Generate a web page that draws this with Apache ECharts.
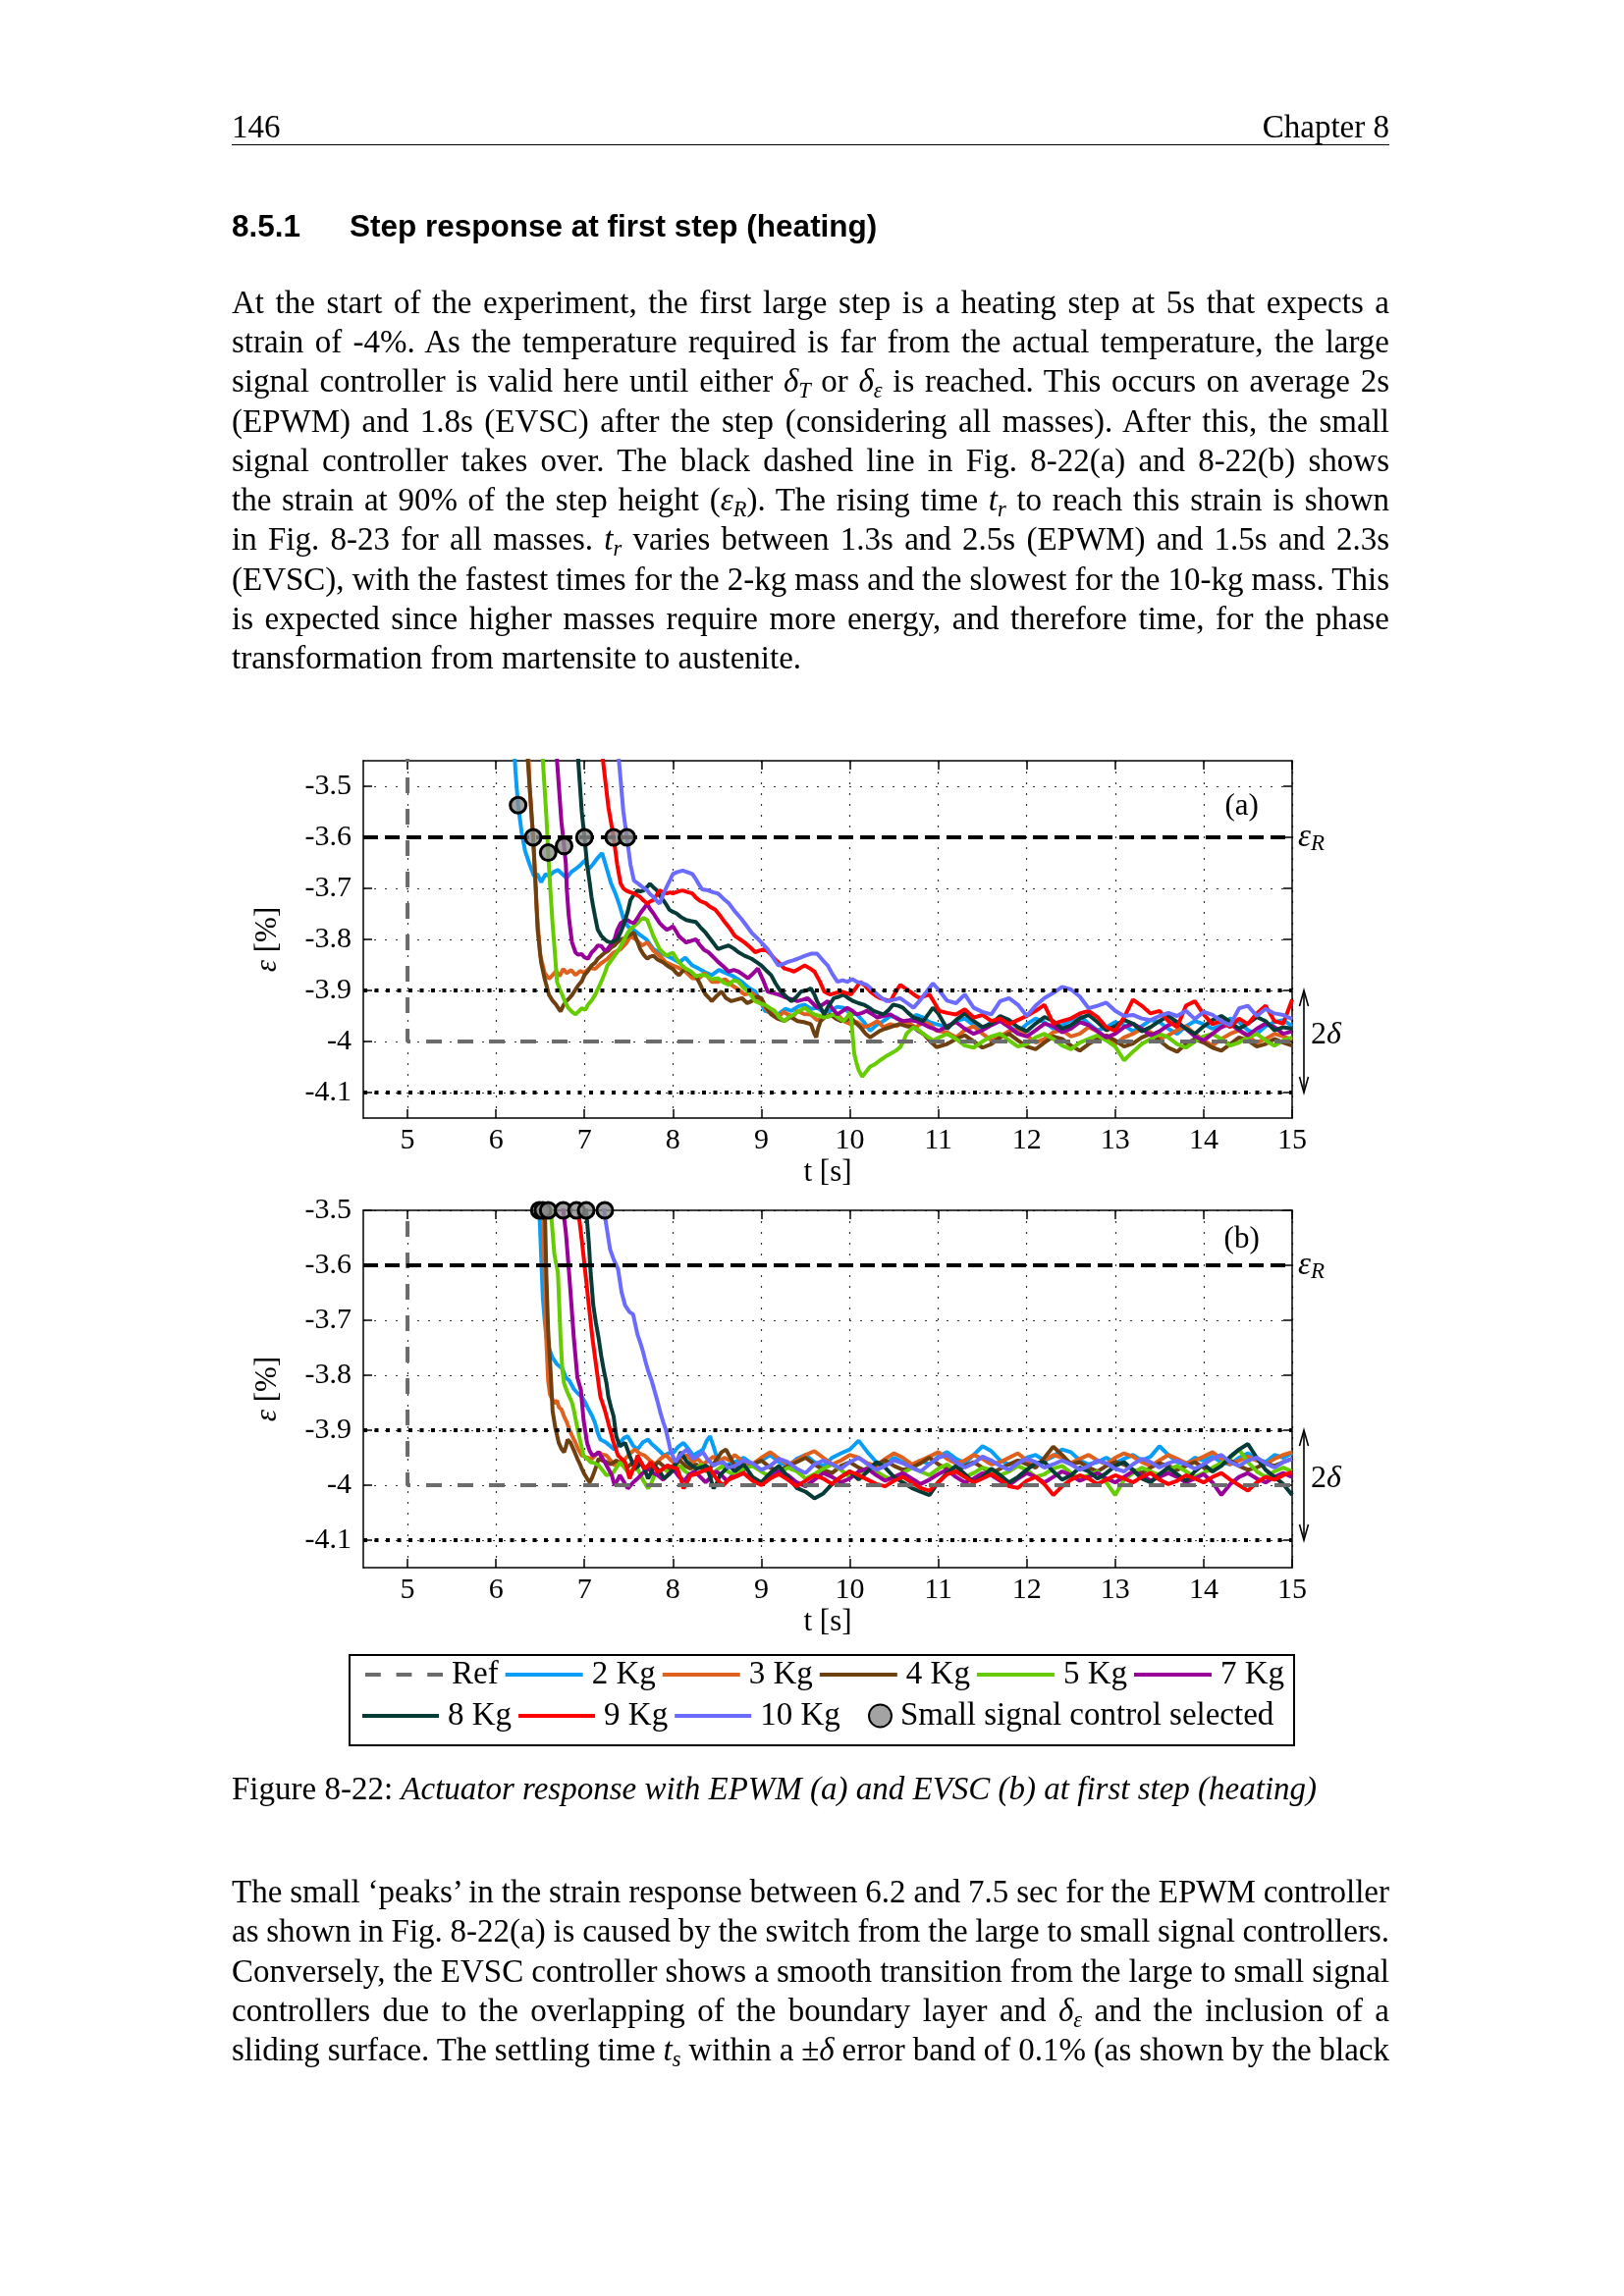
<!DOCTYPE html>
<html>
<head>
<meta charset="utf-8">
<script src="https://cdn.jsdelivr.net/npm/echarts@6.0.0/dist/echarts.min.js"></script>
<style>
html,body{margin:0;padding:0;background:#fff;}
#page{position:relative;width:1654px;height:2339px;overflow:hidden;background:#fff;}
#chart{position:absolute;left:0;top:0;width:1654px;height:2339px;}
.t{position:absolute;left:236px;width:1179px;height:40px;line-height:40px;font-family:'Liberation Serif','Times New Roman',serif;font-size:33px;white-space:nowrap;color:#000;z-index:2;}
.h{position:absolute;left:236px;height:40px;line-height:40px;font-family:'Liberation Sans',Arial,sans-serif;font-weight:bold;font-size:31.5px;white-space:nowrap;color:#000;z-index:2;}
.t i{font-style:italic;}
.t sub{font-size:0.68em;vertical-align:-0.28em;line-height:0;}
</style>
</head>
<body>
<div id="page">
<div id="chart"></div>

<div class="t" style="top:109px">146</div>
<div class="t" style="top:109px;text-align:right">Chapter 8</div>
<div style="position:absolute;left:236px;top:147px;width:1179px;height:0;border-top:1.6px solid #000;z-index:2"></div>
<div class="h" style="top:210px">8.5.1<span style="position:absolute;left:120px">Step response at first step (heating)</span></div>

<div class="t j" style="top:288px"><span class="in">At the start of the experiment, the first large step is a heating step at 5s that expects a</span></div>
<div class="t j" style="top:328px"><span class="in">strain of -4%. As the temperature required is far from the actual temperature, the large</span></div>
<div class="t j" style="top:368px"><span class="in">signal controller is valid here until either <i>&delta;</i><sub><i>T</i></sub> or <i>&delta;</i><sub><i>&epsilon;</i></sub> is reached. This occurs on average 2s</span></div>
<div class="t j" style="top:409px"><span class="in">(EPWM) and 1.8s (EVSC) after the step (considering all masses). After this, the small</span></div>
<div class="t j" style="top:449px"><span class="in">signal controller takes over. The black dashed line in Fig. 8-22(a) and 8-22(b) shows</span></div>
<div class="t j" style="top:489px"><span class="in">the strain at 90% of the step height (<i>&epsilon;</i><sub><i>R</i></sub>). The rising time <i>t</i><sub><i>r</i></sub> to reach this strain is shown</span></div>
<div class="t j" style="top:529px"><span class="in">in Fig. 8-23 for all masses. <i>t</i><sub><i>r</i></sub> varies between 1.3s and 2.5s (EPWM) and 1.5s and 2.3s</span></div>
<div class="t j" style="top:570px"><span class="in">(EVSC), with the fastest times for the 2-kg mass and the slowest for the 10-kg mass. This</span></div>
<div class="t j" style="top:610px"><span class="in">is expected since higher masses require more energy, and therefore time, for the phase</span></div>
<div class="t" style="top:650px"><span class="in">transformation from martensite to austenite.</span></div>

<div class="t" style="top:1802px">Figure 8-22: <i>Actuator response with EPWM (a) and EVSC (b) at first step (heating)</i></div>

<div class="t j" style="top:1907px"><span class="in">The small &lsquo;peaks&rsquo; in the strain response between 6.2 and 7.5 sec for the EPWM controller</span></div>
<div class="t j" style="top:1947px"><span class="in">as shown in Fig. 8-22(a) is caused by the switch from the large to small signal controllers.</span></div>
<div class="t j" style="top:1988px"><span class="in">Conversely, the EVSC controller shows a smooth transition from the large to small signal</span></div>
<div class="t j" style="top:2028px"><span class="in">controllers due to the overlapping of the boundary layer and <i>&delta;</i><sub><i>&epsilon;</i></sub> and the inclusion of a</span></div>
<div class="t j" style="top:2068px"><span class="in">sliding surface. The settling time <i>t</i><sub><i>s</i></sub> within a &plusmn;<i>&delta;</i> error band of 0.1% (as shown by the black</span></div>
</div>

<script>
// ---------------- DATA ----------------
const X_MIN = 4.5, X_MAX = 15;
const X_TICKS = [5, 6, 7, 8, 9, 10, 11, 12, 13, 14, 15];
const Y_TICKS = [-4.1, -4, -3.9, -3.8, -3.7, -3.6, -3.5];
const Y_MIN_A = -4.15, Y_MAX_A = -3.45;
const Y_MIN_B = -4.15, Y_MAX_B = -3.5;
const MASS_NAMES = ['2 Kg', '3 Kg', '4 Kg', '5 Kg', '7 Kg', '8 Kg', '9 Kg', '10 Kg'];
const MASS_COLORS = ['#089ef7', '#e0611e', '#6e4010', '#66cc00', '#990099', '#063b38', '#ff0000', '#6b6bff'];
const REF_T = [4.5, 5, 5, 15];
const REF_V = [0, 0, -4, -4];
const EPS_R = -3.6, BAND_HI = -3.9, BAND_LO = -4.1;
const PANEL_LABEL_A = [14.43, -3.54], PANEL_LABEL_B = [14.43, -3.553];
const DELTA_LABEL_V = -3.988;

// markers: small signal control selected
const MARK_A = [[6.25,-3.537],[6.42,-3.6],[6.59,-3.63],[6.77,-3.617],[7.0,-3.6],[7.33,-3.6],[7.48,-3.6]];
const MARK_B = [[6.49,-3.5],[6.53,-3.5],[6.59,-3.5],[6.76,-3.5],[6.91,-3.5],[7.02,-3.5],[7.23,-3.5]];

// settled-region time bases
const T_A_SET = [11.1,11.2,11.3,11.4,11.5,11.6,11.7,11.8,11.9,12.0,12.1,12.2,12.3,12.4,12.5,12.6,12.7,12.8,12.9,13.0,13.1,13.2,13.3,13.4,13.5,13.6,13.7,13.8,13.9,14.0,14.1,14.2,14.3,14.4,14.5,14.6,14.7,14.8,14.9,15.0];
const T_B_SET = [8.7,8.8,8.9,9.0,9.1,9.2,9.3,9.4,9.5,9.6,9.7,9.8,9.9,10.0,10.1,10.2,10.3,10.4,10.5,10.6,10.7,10.8,10.9,11.0,11.1,11.2,11.3,11.4,11.5,11.6,11.7,11.8,11.9,12.0,12.1,12.2,12.3,12.4,12.5,12.6,12.7,12.8,12.9,13.0,13.1,13.2,13.3,13.4,13.5,13.6,13.7,13.8,13.9,14.0,14.1,14.2,14.3,14.4,14.5,14.6,14.7,14.8,14.9,15.0];

// ----- (a) EPWM: transients [t, strain] -----
const A2_TR = [[6.17,-3.30],[6.22,-3.47],[6.25,-3.537],[6.29,-3.59],[6.33,-3.627],[6.38,-3.653],[6.43,-3.676],[6.47,-3.672],[6.51,-3.688],[6.56,-3.672],[6.60,-3.676],[6.65,-3.668],[6.70,-3.664],[6.75,-3.672],[6.80,-3.680],[6.85,-3.668],[6.90,-3.662],[6.95,-3.655],[7.00,-3.646],[7.05,-3.662],[7.10,-3.652],[7.15,-3.640],[7.20,-3.631],[7.25,-3.660],[7.30,-3.690],[7.35,-3.710],[7.40,-3.735],[7.45,-3.765],[7.50,-3.776],[7.56,-3.782],[7.62,-3.790],[7.70,-3.800],[7.78,-3.819],[7.85,-3.826],[7.93,-3.832],[8.00,-3.838],[8.07,-3.845],[8.14,-3.836],[8.22,-3.851],[8.29,-3.857],[8.36,-3.864],[8.44,-3.870],[8.52,-3.860],[8.60,-3.866],[8.68,-3.872],[8.78,-3.883],[8.86,-3.895],[8.93,-3.902],[9.00,-3.925],[9.04,-3.940],[9.12,-3.944],[9.19,-3.947],[9.27,-3.936],[9.34,-3.940],[9.42,-3.931],[9.49,-3.928],[9.56,-3.936],[9.63,-3.934],[9.70,-3.942],[9.78,-3.940],[9.86,-3.932],[9.93,-3.934],[10.00,-3.944],[10.08,-3.947],[10.16,-3.962],[10.23,-3.979],[10.30,-3.968],[10.38,-3.960],[10.46,-3.950],[10.53,-3.953],[10.60,-3.962],[10.68,-3.960],[10.75,-3.948],[10.83,-3.953],[10.90,-3.962],[10.98,-3.966]];
const A3_TR = [[6.34,-3.30],[6.38,-3.50],[6.42,-3.60],[6.46,-3.74],[6.50,-3.83],[6.55,-3.866],[6.60,-3.877],[6.64,-3.870],[6.68,-3.862],[6.72,-3.872],[6.76,-3.858],[6.80,-3.866],[6.85,-3.860],[6.90,-3.870],[6.95,-3.862],[7.00,-3.865],[7.06,-3.856],[7.12,-3.858],[7.18,-3.848],[7.26,-3.838],[7.33,-3.826],[7.41,-3.819],[7.47,-3.808],[7.52,-3.794],[7.58,-3.800],[7.65,-3.812],[7.71,-3.806],[7.78,-3.822],[7.85,-3.832],[7.92,-3.845],[8.00,-3.851],[8.07,-3.856],[8.14,-3.863],[8.22,-3.876],[8.29,-3.877],[8.36,-3.866],[8.44,-3.883],[8.51,-3.883],[8.59,-3.878],[8.66,-3.889],[8.74,-3.898],[8.81,-3.908],[8.89,-3.905],[8.96,-3.915],[9.02,-3.928],[9.07,-3.940],[9.13,-3.946],[9.19,-3.953],[9.25,-3.942],[9.30,-3.947],[9.36,-3.951],[9.41,-3.940],[9.48,-3.946],[9.56,-3.947],[9.63,-3.958],[9.71,-3.953],[9.78,-3.950],[9.86,-3.947],[9.93,-3.960],[10.01,-3.966],[10.08,-3.962],[10.16,-3.972],[10.23,-3.968],[10.31,-3.960],[10.38,-3.972],[10.46,-3.966],[10.53,-3.970],[10.60,-3.960],[10.68,-3.966],[10.75,-3.972],[10.83,-3.962],[10.90,-3.966],[10.98,-3.979]];
const A4_TR = [[6.33,-3.30],[6.36,-3.45],[6.42,-3.60],[6.45,-3.70],[6.47,-3.78],[6.51,-3.845],[6.55,-3.877],[6.60,-3.909],[6.64,-3.920],[6.68,-3.928],[6.73,-3.941],[6.76,-3.930],[6.79,-3.922],[6.83,-3.915],[6.86,-3.909],[6.90,-3.898],[6.93,-3.890],[6.97,-3.882],[7.00,-3.870],[7.04,-3.862],[7.08,-3.851],[7.12,-3.846],[7.15,-3.838],[7.19,-3.832],[7.23,-3.826],[7.27,-3.822],[7.30,-3.816],[7.34,-3.812],[7.37,-3.806],[7.41,-3.800],[7.45,-3.798],[7.49,-3.794],[7.53,-3.789],[7.56,-3.787],[7.60,-3.805],[7.63,-3.819],[7.67,-3.830],[7.71,-3.838],[7.74,-3.834],[7.78,-3.832],[7.83,-3.840],[7.89,-3.845],[7.94,-3.852],[8.00,-3.858],[8.04,-3.866],[8.07,-3.870],[8.11,-3.862],[8.15,-3.858],[8.20,-3.866],[8.26,-3.872],[8.30,-3.885],[8.33,-3.896],[8.37,-3.908],[8.41,-3.915],[8.44,-3.921],[8.50,-3.910],[8.55,-3.902],[8.60,-3.915],[8.66,-3.921],[8.72,-3.918],[8.78,-3.915],[8.84,-3.925],[8.89,-3.921],[8.95,-3.912],[9.00,-3.915],[9.05,-3.932],[9.11,-3.947],[9.18,-3.955],[9.26,-3.960],[9.33,-3.952],[9.41,-3.960],[9.48,-3.962],[9.56,-3.966],[9.60,-3.985],[9.62,-3.992],[9.64,-3.975],[9.67,-3.960],[9.72,-3.952],[9.78,-3.947],[9.84,-3.955],[9.90,-3.960],[9.96,-3.958],[10.01,-3.953],[10.07,-3.964],[10.12,-3.972],[10.18,-3.985],[10.23,-3.992],[10.29,-3.985],[10.34,-3.979],[10.40,-3.975],[10.46,-3.972],[10.52,-3.968],[10.57,-3.966],[10.64,-3.970],[10.72,-3.972],[10.78,-3.980],[10.83,-3.985],[10.90,-3.998],[10.98,-4.011]];
const A5_TR = [[6.50,-3.30],[6.53,-3.45],[6.57,-3.56],[6.59,-3.63],[6.62,-3.717],[6.64,-3.77],[6.66,-3.813],[6.69,-3.883],[6.72,-3.898],[6.75,-3.909],[6.78,-3.922],[6.82,-3.935],[6.86,-3.942],[6.90,-3.947],[6.94,-3.940],[6.97,-3.935],[7.01,-3.938],[7.04,-3.928],[7.08,-3.920],[7.12,-3.909],[7.15,-3.898],[7.19,-3.883],[7.23,-3.866],[7.26,-3.851],[7.30,-3.842],[7.34,-3.832],[7.37,-3.825],[7.41,-3.813],[7.45,-3.800],[7.49,-3.787],[7.52,-3.780],[7.56,-3.774],[7.60,-3.768],[7.63,-3.762],[7.67,-3.758],[7.71,-3.762],[7.75,-3.780],[7.78,-3.794],[7.82,-3.808],[7.85,-3.819],[7.89,-3.826],[7.93,-3.832],[7.97,-3.828],[8.00,-3.826],[8.04,-3.838],[8.07,-3.845],[8.11,-3.852],[8.15,-3.858],[8.20,-3.862],[8.26,-3.872],[8.31,-3.870],[8.37,-3.870],[8.44,-3.878],[8.51,-3.876],[8.57,-3.884],[8.63,-3.889],[8.69,-3.880],[8.74,-3.883],[8.80,-3.895],[8.85,-3.902],[8.93,-3.921],[8.98,-3.925],[9.04,-3.928],[9.10,-3.935],[9.15,-3.940],[9.20,-3.952],[9.26,-3.960],[9.31,-3.952],[9.37,-3.947],[9.43,-3.940],[9.49,-3.934],[9.55,-3.942],[9.60,-3.947],[9.66,-3.950],[9.71,-3.953],[9.77,-3.950],[9.82,-3.947],[9.88,-3.955],[9.93,-3.960],[9.98,-3.950],[10.01,-3.940],[10.03,-3.985],[10.05,-4.024],[10.08,-4.045],[10.10,-4.056],[10.14,-4.069],[10.18,-4.060],[10.23,-4.049],[10.28,-4.045],[10.34,-4.037],[10.40,-4.030],[10.46,-4.024],[10.52,-4.018],[10.57,-4.011],[10.61,-3.998],[10.64,-3.985],[10.68,-3.978],[10.72,-3.972],[10.78,-3.978],[10.83,-3.985],[10.89,-3.992],[10.94,-3.998],[11.01,-3.992]];
const A7_TR = [[6.66,-3.30],[6.69,-3.45],[6.74,-3.57],[6.77,-3.617],[6.79,-3.653],[6.80,-3.70],[6.82,-3.749],[6.84,-3.78],[6.86,-3.806],[6.90,-3.826],[6.93,-3.830],[6.97,-3.829],[7.00,-3.835],[7.04,-3.838],[7.08,-3.826],[7.12,-3.819],[7.15,-3.812],[7.19,-3.813],[7.23,-3.822],[7.26,-3.819],[7.30,-3.810],[7.34,-3.800],[7.37,-3.782],[7.41,-3.768],[7.45,-3.764],[7.49,-3.762],[7.52,-3.766],[7.56,-3.768],[7.60,-3.758],[7.63,-3.749],[7.67,-3.740],[7.71,-3.730],[7.74,-3.740],[7.78,-3.749],[7.82,-3.760],[7.85,-3.768],[7.89,-3.775],[7.93,-3.781],[7.97,-3.778],[8.00,-3.774],[8.04,-3.785],[8.07,-3.794],[8.11,-3.800],[8.15,-3.806],[8.20,-3.803],[8.26,-3.800],[8.30,-3.810],[8.35,-3.820],[8.40,-3.825],[8.46,-3.835],[8.51,-3.844],[8.57,-3.853],[8.63,-3.863],[8.69,-3.860],[8.74,-3.863],[8.80,-3.870],[8.85,-3.876],[8.91,-3.866],[8.96,-3.857],[9.02,-3.880],[9.07,-3.902],[9.13,-3.905],[9.19,-3.908],[9.25,-3.912],[9.30,-3.915],[9.36,-3.918],[9.41,-3.921],[9.47,-3.918],[9.52,-3.915],[9.58,-3.925],[9.63,-3.934],[9.69,-3.928],[9.75,-3.921],[9.80,-3.935],[9.86,-3.947],[9.92,-3.940],[9.97,-3.934],[10.03,-3.940],[10.08,-3.947],[10.14,-3.944],[10.19,-3.940],[10.25,-3.946],[10.31,-3.953],[10.38,-3.950],[10.46,-3.947],[10.53,-3.955],[10.60,-3.960],[10.68,-3.958],[10.75,-3.960],[10.83,-3.966],[10.90,-3.972],[11.01,-3.979]];
const A8_TR = [[6.90,-3.30],[6.93,-3.45],[6.97,-3.55],[7.00,-3.60],[7.03,-3.653],[7.06,-3.69],[7.08,-3.717],[7.10,-3.737],[7.12,-3.755],[7.15,-3.781],[7.19,-3.793],[7.23,-3.800],[7.26,-3.804],[7.30,-3.806],[7.34,-3.803],[7.37,-3.800],[7.41,-3.786],[7.45,-3.768],[7.49,-3.745],[7.52,-3.723],[7.56,-3.712],[7.60,-3.704],[7.63,-3.706],[7.67,-3.704],[7.71,-3.697],[7.74,-3.691],[7.78,-3.698],[7.82,-3.704],[7.85,-3.714],[7.89,-3.723],[7.93,-3.733],[7.96,-3.742],[8.00,-3.746],[8.04,-3.749],[8.09,-3.756],[8.15,-3.762],[8.20,-3.764],[8.26,-3.766],[8.31,-3.776],[8.37,-3.787],[8.44,-3.803],[8.51,-3.819],[8.57,-3.815],[8.63,-3.812],[8.69,-3.818],[8.74,-3.825],[8.81,-3.832],[8.89,-3.838],[8.95,-3.845],[9.00,-3.851],[9.05,-3.860],[9.11,-3.870],[9.16,-3.886],[9.22,-3.902],[9.28,-3.912],[9.34,-3.921],[9.40,-3.912],[9.45,-3.902],[9.51,-3.900],[9.56,-3.896],[9.60,-3.908],[9.63,-3.921],[9.67,-3.934],[9.71,-3.947],[9.76,-3.930],[9.82,-3.915],[9.88,-3.912],[9.93,-3.908],[9.98,-3.915],[10.04,-3.921],[10.10,-3.925],[10.16,-3.928],[10.22,-3.934],[10.27,-3.940],[10.33,-3.944],[10.38,-3.947],[10.44,-3.938],[10.49,-3.928],[10.55,-3.930],[10.60,-3.934],[10.66,-3.944],[10.72,-3.953],[10.78,-3.956],[10.83,-3.960],[10.89,-3.946],[10.94,-3.934],[11.00,-3.945]];
const A9_TR = [[7.17,-3.30],[7.21,-3.45],[7.27,-3.54],[7.33,-3.60],[7.37,-3.653],[7.41,-3.691],[7.44,-3.700],[7.47,-3.704],[7.52,-3.708],[7.56,-3.710],[7.60,-3.714],[7.63,-3.717],[7.67,-3.724],[7.71,-3.730],[7.74,-3.726],[7.78,-3.723],[7.82,-3.712],[7.85,-3.704],[7.89,-3.708],[7.93,-3.710],[7.97,-3.708],[8.00,-3.710],[8.06,-3.706],[8.11,-3.704],[8.16,-3.707],[8.22,-3.710],[8.26,-3.718],[8.31,-3.725],[8.37,-3.729],[8.42,-3.736],[8.48,-3.742],[8.54,-3.755],[8.59,-3.767],[8.65,-3.780],[8.70,-3.793],[8.76,-3.800],[8.81,-3.806],[8.87,-3.815],[8.93,-3.825],[8.98,-3.822],[9.04,-3.819],[9.10,-3.828],[9.15,-3.838],[9.21,-3.848],[9.26,-3.857],[9.32,-3.860],[9.37,-3.863],[9.43,-3.857],[9.49,-3.851],[9.55,-3.857],[9.60,-3.863],[9.66,-3.882],[9.71,-3.902],[9.75,-3.906],[9.78,-3.908],[9.84,-3.905],[9.90,-3.902],[9.96,-3.905],[10.01,-3.908],[10.07,-3.895],[10.12,-3.883],[10.18,-3.892],[10.23,-3.902],[10.29,-3.910],[10.34,-3.915],[10.40,-3.918],[10.46,-3.921],[10.51,-3.905],[10.57,-3.889],[10.62,-3.895],[10.68,-3.902],[10.74,-3.910],[10.79,-3.915],[10.85,-3.911],[10.90,-3.908],[10.96,-3.925],[11.01,-3.940]];
const A10_TR = [[7.35,-3.30],[7.39,-3.45],[7.44,-3.55],[7.48,-3.60],[7.52,-3.653],[7.56,-3.685],[7.61,-3.691],[7.66,-3.698],[7.71,-3.704],[7.74,-3.711],[7.78,-3.717],[7.82,-3.725],[7.85,-3.730],[7.89,-3.712],[7.93,-3.697],[7.97,-3.683],[8.00,-3.672],[8.05,-3.668],[8.11,-3.665],[8.16,-3.668],[8.22,-3.672],[8.26,-3.682],[8.29,-3.691],[8.33,-3.702],[8.40,-3.704],[8.46,-3.708],[8.51,-3.710],[8.57,-3.720],[8.63,-3.729],[8.70,-3.745],[8.78,-3.761],[8.84,-3.775],[8.89,-3.787],[8.95,-3.797],[9.00,-3.806],[9.07,-3.819],[9.13,-3.835],[9.19,-3.851],[9.25,-3.848],[9.30,-3.844],[9.36,-3.841],[9.41,-3.838],[9.48,-3.833],[9.56,-3.828],[9.63,-3.828],[9.69,-3.840],[9.75,-3.851],[9.80,-3.867],[9.86,-3.883],[9.92,-3.880],[9.97,-3.883],[10.03,-3.878],[10.08,-3.883],[10.14,-3.886],[10.19,-3.889],[10.25,-3.898],[10.31,-3.908],[10.36,-3.915],[10.42,-3.921],[10.50,-3.918],[10.57,-3.915],[10.65,-3.925],[10.72,-3.934],[10.80,-3.918],[10.87,-3.902],[10.94,-3.886],[11.01,-3.900]];

// ----- (a) settled values at T_A_SET -----
const A2_SET = [-3.972,-3.960,-3.955,-3.968,-3.975,-3.962,-3.958,-3.970,-3.982,-3.966,-3.955,-3.962,-3.975,-3.968,-3.958,-3.950,-3.965,-3.978,-3.972,-3.962,-3.968,-3.980,-3.970,-3.958,-3.962,-3.975,-3.985,-3.970,-3.960,-3.966,-3.975,-3.968,-3.955,-3.962,-3.978,-3.985,-3.970,-3.962,-3.958,-3.970];
const A3_SET = [-3.982,-3.992,-3.978,-3.970,-3.985,-3.998,-3.990,-3.980,-3.975,-3.988,-4.002,-3.995,-3.982,-3.978,-3.990,-3.985,-3.972,-3.980,-3.995,-4.005,-3.992,-3.985,-3.975,-3.982,-3.995,-3.988,-3.978,-3.970,-3.985,-3.998,-4.008,-3.995,-3.985,-3.978,-3.990,-4.002,-3.995,-3.985,-3.990,-3.996];
const A4_SET = [-4.005,-3.995,-3.988,-4.000,-4.012,-4.005,-3.992,-3.985,-3.998,-4.010,-4.015,-4.002,-3.990,-3.995,-4.008,-4.018,-4.005,-3.995,-3.988,-3.998,-4.010,-4.004,-3.992,-3.985,-3.998,-4.012,-4.020,-4.005,-3.995,-4.002,-4.012,-4.018,-4.005,-3.992,-3.998,-4.010,-4.005,-3.995,-4.002,-4.008];
const A5_SET = [-3.985,-3.995,-4.008,-4.012,-4.000,-3.990,-3.985,-3.998,-4.010,-4.005,-3.992,-3.985,-3.995,-4.008,-4.015,-4.002,-3.995,-3.988,-3.998,-4.010,-4.037,-4.020,-4.005,-3.995,-3.985,-3.992,-4.005,-4.012,-4.000,-3.990,-3.985,-3.995,-4.008,-4.002,-3.992,-3.985,-3.998,-4.008,-3.998,-3.992];
const A7_SET = [-3.970,-3.962,-3.975,-3.985,-3.978,-3.968,-3.960,-3.972,-3.985,-3.990,-3.978,-3.965,-3.970,-3.982,-3.975,-3.962,-3.968,-3.980,-3.992,-3.985,-3.972,-3.965,-3.975,-3.988,-3.980,-3.968,-3.962,-3.975,-3.990,-3.998,-3.985,-3.972,-3.965,-3.978,-3.988,-3.975,-3.965,-3.972,-3.985,-3.980];
const A8_SET = [-3.975,-3.958,-3.945,-3.960,-3.972,-3.965,-3.950,-3.958,-3.972,-3.980,-3.965,-3.952,-3.960,-3.975,-3.968,-3.955,-3.948,-3.962,-3.978,-3.970,-3.958,-3.965,-3.980,-3.972,-3.960,-3.950,-3.962,-3.975,-3.985,-3.970,-3.958,-3.950,-3.962,-3.975,-3.965,-3.952,-3.960,-3.978,-3.972,-3.975];
const A9_SET = [-3.944,-3.947,-3.937,-3.953,-3.948,-3.960,-3.955,-3.966,-3.958,-3.950,-3.940,-3.928,-3.965,-3.960,-3.955,-3.945,-3.940,-3.952,-3.972,-3.979,-3.953,-3.918,-3.930,-3.945,-3.940,-3.960,-3.972,-3.930,-3.921,-3.947,-3.966,-3.960,-3.972,-3.955,-3.966,-3.945,-3.930,-3.960,-3.965,-3.918];
const A10_SET = [-3.920,-3.925,-3.908,-3.934,-3.942,-3.947,-3.921,-3.915,-3.928,-3.950,-3.930,-3.915,-3.905,-3.893,-3.898,-3.912,-3.935,-3.930,-3.924,-3.940,-3.950,-3.948,-3.955,-3.958,-3.950,-3.944,-3.950,-3.940,-3.956,-3.942,-3.948,-3.960,-3.968,-3.935,-3.930,-3.950,-3.936,-3.945,-3.948,-3.956];

// ----- (b) EVSC: transients [t, strain] -----
const B2_TR = [[6.45,-3.30],[6.49,-3.50],[6.51,-3.58],[6.53,-3.66],[6.55,-3.70],[6.57,-3.732],[6.60,-3.752],[6.64,-3.768],[6.69,-3.780],[6.75,-3.788],[6.79,-3.804],[6.83,-3.810],[6.88,-3.825],[6.93,-3.834],[6.97,-3.839],[7.01,-3.850],[7.05,-3.863],[7.09,-3.875],[7.12,-3.887],[7.15,-3.905],[7.18,-3.917],[7.22,-3.920],[7.25,-3.923],[7.30,-3.930],[7.34,-3.935],[7.39,-3.925],[7.44,-3.915],[7.49,-3.911],[7.55,-3.928],[7.60,-3.935],[7.66,-3.922],[7.72,-3.917],[7.76,-3.925],[7.79,-3.929],[7.85,-3.938],[7.90,-3.946],[7.95,-3.942],[8.01,-3.940],[8.06,-3.930],[8.12,-3.923],[8.18,-3.935],[8.23,-3.946],[8.29,-3.940],[8.34,-3.935],[8.38,-3.920],[8.42,-3.911],[8.46,-3.930],[8.49,-3.946],[8.55,-3.955],[8.60,-3.964],[8.66,-3.960]];
const B3_TR = [[6.50,-3.30],[6.53,-3.50],[6.55,-3.62],[6.57,-3.74],[6.59,-3.81],[6.61,-3.835],[6.64,-3.845],[6.66,-3.851],[6.69,-3.846],[6.71,-3.858],[6.74,-3.862],[6.77,-3.875],[6.80,-3.885],[6.83,-3.899],[6.86,-3.910],[6.90,-3.923],[6.93,-3.935],[6.97,-3.946],[7.03,-3.950],[7.09,-3.952],[7.12,-3.946],[7.16,-3.940],[7.20,-3.944],[7.25,-3.946],[7.30,-3.956],[7.34,-3.964],[7.40,-3.958],[7.46,-3.952],[7.52,-3.942],[7.57,-3.935],[7.62,-3.942],[7.68,-3.946],[7.74,-3.955],[7.80,-3.962],[7.86,-3.952],[7.92,-3.945],[7.98,-3.955],[8.04,-3.962],[8.10,-3.950],[8.16,-3.945],[8.22,-3.958],[8.28,-3.952],[8.34,-3.962],[8.40,-3.955],[8.46,-3.948],[8.52,-3.958],[8.58,-3.950],[8.64,-3.955]];
const B4_TR = [[6.52,-3.30],[6.55,-3.48],[6.57,-3.62],[6.59,-3.72],[6.62,-3.800],[6.64,-3.865],[6.67,-3.895],[6.71,-3.923],[6.74,-3.934],[6.77,-3.940],[6.79,-3.930],[6.81,-3.917],[6.84,-3.922],[6.86,-3.929],[6.89,-3.940],[6.92,-3.952],[6.95,-3.962],[6.97,-3.970],[7.00,-3.980],[7.03,-3.988],[7.06,-3.995],[7.09,-3.985],[7.12,-3.972],[7.16,-3.952],[7.20,-3.955],[7.25,-3.958],[7.30,-3.962],[7.36,-3.955],[7.42,-3.962],[7.48,-3.968],[7.54,-3.960],[7.60,-3.955],[7.66,-3.965],[7.72,-3.972],[7.78,-3.965],[7.84,-3.958],[7.90,-3.966],[7.96,-3.972],[8.02,-3.962],[8.08,-3.955],[8.14,-3.965],[8.20,-3.970],[8.26,-3.962],[8.32,-3.968],[8.38,-3.975],[8.44,-3.965],[8.50,-3.952],[8.55,-3.940],[8.60,-3.935],[8.65,-3.950]];
const B5_TR = [[6.58,-3.30],[6.62,-3.50],[6.66,-3.58],[6.70,-3.613],[6.73,-3.732],[6.75,-3.790],[6.77,-3.815],[6.80,-3.828],[6.83,-3.839],[6.86,-3.850],[6.88,-3.863],[6.91,-3.888],[6.94,-3.911],[6.97,-3.932],[6.99,-3.946],[7.03,-3.952],[7.07,-3.958],[7.12,-3.960],[7.16,-3.964],[7.20,-3.972],[7.25,-3.982],[7.29,-3.980],[7.33,-3.976],[7.37,-3.966],[7.40,-3.958],[7.45,-3.968],[7.49,-3.976],[7.55,-3.972],[7.60,-3.970],[7.66,-3.990],[7.72,-4.006],[7.76,-3.995],[7.79,-3.982],[7.85,-3.975],[7.90,-3.970],[7.96,-3.978],[8.02,-3.972],[8.08,-3.965],[8.14,-3.975],[8.20,-3.982],[8.26,-3.970],[8.32,-3.962],[8.38,-3.972],[8.44,-3.980],[8.50,-3.972],[8.56,-3.965],[8.62,-3.975]];
const B7_TR = [[6.72,-3.30],[6.76,-3.50],[6.79,-3.54],[6.81,-3.580],[6.84,-3.643],[6.88,-3.732],[6.92,-3.804],[6.96,-3.827],[6.99,-3.881],[7.03,-3.923],[7.06,-3.938],[7.09,-3.946],[7.13,-3.944],[7.16,-3.940],[7.20,-3.950],[7.23,-3.958],[7.27,-3.970],[7.31,-3.982],[7.34,-4.000],[7.37,-3.992],[7.40,-3.982],[7.45,-3.995],[7.49,-4.006],[7.55,-3.995],[7.60,-3.988],[7.66,-3.978],[7.72,-3.970],[7.78,-3.978],[7.83,-3.982],[7.89,-3.990],[7.95,-3.980],[8.01,-3.972],[8.07,-3.985],[8.13,-3.992],[8.19,-3.980],[8.25,-3.975],[8.31,-3.985],[8.37,-3.995],[8.43,-3.985],[8.49,-3.975],[8.55,-3.982],[8.61,-3.992],[8.66,-3.985]];
const B8_TR = [[6.99,-3.30],[7.02,-3.50],[7.05,-3.56],[7.07,-3.613],[7.10,-3.673],[7.13,-3.705],[7.16,-3.732],[7.19,-3.765],[7.22,-3.792],[7.25,-3.815],[7.27,-3.839],[7.30,-3.858],[7.33,-3.875],[7.36,-3.911],[7.40,-3.929],[7.43,-3.926],[7.46,-3.923],[7.51,-3.946],[7.54,-3.958],[7.57,-3.970],[7.61,-3.965],[7.64,-3.958],[7.68,-3.972],[7.72,-3.988],[7.76,-3.975],[7.79,-3.964],[7.85,-3.975],[7.90,-3.988],[7.96,-3.980],[8.01,-3.970],[8.05,-3.955],[8.09,-3.940],[8.12,-3.948],[8.16,-3.958],[8.22,-3.965],[8.27,-3.970],[8.33,-3.967],[8.38,-3.964],[8.42,-3.985],[8.46,-4.006],[8.50,-3.995],[8.53,-3.982],[8.59,-3.972],[8.64,-3.964]];
const B9_TR = [[6.90,-3.30],[6.93,-3.50],[6.97,-3.554],[7.01,-3.613],[7.05,-3.673],[7.09,-3.732],[7.14,-3.792],[7.18,-3.839],[7.23,-3.863],[7.27,-3.887],[7.30,-3.905],[7.33,-3.923],[7.38,-3.946],[7.42,-3.952],[7.46,-3.958],[7.49,-3.975],[7.51,-3.988],[7.54,-3.975],[7.57,-3.964],[7.60,-3.946],[7.64,-3.958],[7.68,-3.970],[7.72,-3.964],[7.75,-3.958],[7.79,-3.968],[7.83,-3.976],[7.89,-3.970],[7.94,-3.964],[8.00,-3.968],[8.05,-3.970],[8.09,-3.988],[8.12,-4.006],[8.16,-3.995],[8.20,-3.982],[8.26,-3.980],[8.31,-3.976],[8.37,-3.972],[8.42,-3.970],[8.46,-3.980],[8.49,-3.988],[8.53,-3.995],[8.57,-4.000],[8.63,-3.990]];
const B10_TR = [[7.18,-3.30],[7.22,-3.50],[7.25,-3.53],[7.29,-3.571],[7.33,-3.589],[7.38,-3.607],[7.42,-3.649],[7.46,-3.673],[7.51,-3.685],[7.55,-3.689],[7.57,-3.690],[7.60,-3.726],[7.63,-3.740],[7.66,-3.756],[7.69,-3.775],[7.72,-3.792],[7.76,-3.810],[7.79,-3.827],[7.83,-3.850],[7.86,-3.869],[7.89,-3.885],[7.92,-3.899],[7.95,-3.920],[7.97,-3.935],[8.00,-3.948],[8.03,-3.958],[8.08,-3.946],[8.12,-3.940],[8.16,-3.935],[8.20,-3.945],[8.23,-3.952],[8.29,-3.946],[8.34,-3.940],[8.40,-3.955],[8.46,-3.964],[8.51,-3.960],[8.57,-3.958],[8.62,-3.968]];

// ----- (b) settled values at T_B_SET -----
const B2_SET = [-3.958,-3.950,-3.962,-3.955,-3.945,-3.958,-3.966,-3.952,-3.945,-3.958,-3.965,-3.950,-3.942,-3.935,-3.919,-3.940,-3.958,-3.962,-3.950,-3.958,-3.965,-3.955,-3.962,-3.948,-3.940,-3.952,-3.960,-3.945,-3.929,-3.938,-3.955,-3.962,-3.958,-3.950,-3.945,-3.955,-3.948,-3.935,-3.940,-3.955,-3.962,-3.958,-3.950,-3.960,-3.952,-3.945,-3.955,-3.948,-3.929,-3.945,-3.958,-3.962,-3.950,-3.955,-3.948,-3.958,-3.962,-3.950,-3.942,-3.952,-3.958,-3.945,-3.950,-3.942];
const B3_SET = [-3.945,-3.958,-3.962,-3.950,-3.940,-3.952,-3.962,-3.955,-3.945,-3.938,-3.950,-3.962,-3.955,-3.945,-3.950,-3.960,-3.965,-3.952,-3.942,-3.950,-3.962,-3.955,-3.948,-3.940,-3.952,-3.960,-3.955,-3.945,-3.952,-3.962,-3.958,-3.950,-3.942,-3.955,-3.962,-3.955,-3.945,-3.950,-3.960,-3.952,-3.945,-3.955,-3.962,-3.950,-3.942,-3.948,-3.958,-3.965,-3.955,-3.945,-3.952,-3.960,-3.955,-3.948,-3.940,-3.952,-3.962,-3.955,-3.948,-3.955,-3.962,-3.952,-3.945,-3.940];
const B4_SET = [-3.965,-3.972,-3.962,-3.955,-3.968,-3.975,-3.965,-3.958,-3.950,-3.962,-3.972,-3.978,-3.965,-3.958,-3.968,-3.975,-3.962,-3.955,-3.965,-3.972,-3.968,-3.960,-3.950,-3.962,-3.970,-3.975,-3.965,-3.958,-3.968,-3.978,-3.970,-3.962,-3.955,-3.962,-3.968,-3.950,-3.930,-3.945,-3.962,-3.958,-3.968,-3.975,-3.965,-3.958,-3.962,-3.972,-3.978,-3.968,-3.960,-3.965,-3.972,-3.965,-3.958,-3.968,-3.975,-3.962,-3.955,-3.965,-3.972,-3.968,-3.960,-3.965,-3.958,-3.952];
const B5_SET = [-3.982,-3.970,-3.965,-3.975,-3.985,-3.978,-3.968,-3.975,-3.988,-3.980,-3.970,-3.962,-3.972,-3.985,-3.978,-3.968,-3.975,-3.985,-3.990,-3.978,-3.968,-3.975,-3.982,-3.970,-3.962,-3.975,-3.985,-3.978,-3.968,-3.972,-3.982,-3.975,-3.965,-3.972,-3.985,-3.980,-3.970,-3.965,-3.978,-3.988,-3.982,-3.975,-3.995,-4.018,-3.990,-3.978,-3.968,-3.975,-3.982,-3.972,-3.965,-3.975,-3.985,-3.978,-3.968,-3.960,-3.950,-3.935,-3.958,-3.975,-3.985,-3.975,-3.968,-3.975];
const B7_SET = [-3.985,-3.978,-3.990,-3.998,-3.985,-3.975,-3.982,-3.995,-4.002,-3.990,-3.978,-3.985,-3.995,-3.988,-3.975,-3.970,-3.982,-3.992,-3.985,-3.978,-3.988,-3.998,-3.990,-3.980,-3.972,-3.985,-3.995,-3.988,-3.978,-3.982,-3.992,-4.000,-3.988,-3.978,-3.985,-3.995,-3.985,-3.975,-3.982,-3.992,-3.985,-3.978,-3.988,-3.995,-3.985,-3.975,-3.982,-3.992,-3.985,-3.978,-3.985,-3.995,-3.988,-3.980,-3.995,-4.018,-3.998,-3.985,-3.978,-3.988,-3.995,-3.985,-3.978,-3.985];
const B8_SET = [-3.975,-3.962,-3.985,-3.995,-3.978,-3.965,-3.985,-4.005,-4.012,-4.024,-4.015,-3.998,-3.985,-3.975,-3.990,-3.975,-3.958,-3.968,-3.985,-3.995,-4.005,-4.012,-4.018,-3.995,-3.978,-3.965,-3.980,-3.995,-3.985,-3.970,-3.982,-3.995,-3.985,-3.972,-3.960,-3.958,-3.975,-3.990,-3.982,-3.968,-3.975,-3.988,-3.978,-3.965,-3.958,-3.972,-3.988,-3.995,-3.980,-3.968,-3.980,-3.992,-3.975,-3.962,-3.975,-3.965,-3.948,-3.935,-3.925,-3.950,-3.972,-3.985,-3.998,-4.018];
const B9_SET = [-3.985,-3.978,-3.992,-4.000,-3.988,-3.980,-3.990,-4.002,-3.992,-3.982,-3.988,-3.998,-3.985,-3.975,-3.982,-3.990,-3.998,-4.002,-3.992,-3.985,-3.995,-4.005,-4.010,-3.995,-3.980,-3.975,-3.985,-3.995,-3.988,-3.980,-3.990,-4.002,-4.005,-3.992,-3.985,-3.998,-4.018,-4.002,-3.990,-3.982,-3.988,-3.998,-3.990,-3.982,-3.988,-3.995,-3.985,-3.978,-3.990,-3.998,-3.992,-3.982,-3.988,-3.995,-3.985,-3.978,-3.990,-4.000,-4.010,-3.995,-3.985,-3.990,-3.982,-3.976];
const B10_SET = [-3.965,-3.955,-3.960,-3.972,-3.965,-3.952,-3.958,-3.970,-3.978,-3.962,-3.955,-3.962,-3.970,-3.958,-3.950,-3.962,-3.972,-3.965,-3.955,-3.960,-3.968,-3.975,-3.962,-3.950,-3.945,-3.958,-3.968,-3.960,-3.948,-3.955,-3.965,-3.972,-3.960,-3.952,-3.958,-3.968,-3.962,-3.955,-3.962,-3.972,-3.965,-3.955,-3.960,-3.970,-3.975,-3.962,-3.952,-3.958,-3.968,-3.960,-3.955,-3.962,-3.970,-3.962,-3.952,-3.945,-3.958,-3.965,-3.955,-3.950,-3.960,-3.968,-3.958,-3.952];

const PANEL_A = [[A2_TR,A2_SET],[A3_TR,A3_SET],[A4_TR,A4_SET],[A5_TR,A5_SET],[A7_TR,A7_SET],[A8_TR,A8_SET],[A9_TR,A9_SET],[A10_TR,A10_SET]];
const PANEL_B = [[B2_TR,B2_SET],[B3_TR,B3_SET],[B4_TR,B4_SET],[B5_TR,B5_SET],[B7_TR,B7_SET],[B8_TR,B8_SET],[B9_TR,B9_SET],[B10_TR,B10_SET]];

// ---------------- CHART ----------------
const FONT = "'Liberation Serif', 'Times New Roman', serif";
const TICK_FS = 30;
const LINE_W = 4;
const chart = echarts.init(document.getElementById('chart'), null, {renderer: 'canvas'});

function xAxesFor(gridIndex) {
  const common = {type: 'value', gridIndex, min: X_MIN, max: X_MAX,
    axisLine: {show: true, onZero: false, lineStyle: {color: '#000', width: 1.5}},
    axisTick: {show: true, inside: true, length: 9, customValues: X_TICKS, lineStyle: {color: '#000', width: 1.5}}};
  return [
    Object.assign({}, common, {position: 'bottom',
      axisLabel: {show: true, customValues: X_TICKS, margin: 8, color: '#000', fontFamily: FONT, fontSize: TICK_FS},
      splitLine: {show: true, lineStyle: {type: [2, 9], color: '#333', width: 1.2}},
      name: 't [s]', nameLocation: 'middle', nameGap: 40,
      nameTextStyle: {fontFamily: FONT, fontSize: 31, color: '#000'}}),
    Object.assign({}, common, {position: 'top', axisLabel: {show: false}, splitLine: {show: false}})
  ];
}
function yAxesFor(gridIndex, min, max) {
  const common = {type: 'value', gridIndex, min, max,
    axisLine: {show: true, onZero: false, lineStyle: {color: '#000', width: 1.5}},
    axisTick: {show: true, inside: true, length: 9, customValues: Y_TICKS, lineStyle: {color: '#000', width: 1.5}}};
  return [
    Object.assign({}, common, {position: 'left',
      axisLabel: {show: true, customValues: Y_TICKS, margin: 12, color: '#000', fontFamily: FONT, fontSize: TICK_FS},
      splitLine: {show: true, lineStyle: {type: [2, 9], color: '#333', width: 1.2}},
      name: '{i|ε} [%]', nameLocation: 'middle', nameGap: 82,
      nameTextStyle: {fontFamily: FONT, fontSize: 31, color: '#000',
        rich: {i: {fontFamily: FONT, fontSize: 31, fontStyle: 'italic', color: '#000'}}}}),
    Object.assign({}, common, {position: 'right', axisLabel: {show: false}, splitLine: {show: false}})
  ];
}

function panelSeries(panel, tSet, markers, xi, yi) {
  const out = [];
  panel.forEach((pair, k) => {
    const data = pair[0].concat(tSet.map((t, i) => [t, pair[1][i]]));
    out.push({type: 'line', name: MASS_NAMES[k], xAxisIndex: xi, yAxisIndex: yi, data,
      symbol: 'none', showSymbol: false, clip: true, z: 2,
      lineStyle: {color: MASS_COLORS[k], width: LINE_W}, itemStyle: {color: MASS_COLORS[k]},
      emphasis: {disabled: true}, animation: false});
  });
  out.push({type: 'line', name: 'Ref', xAxisIndex: xi, yAxisIndex: yi,
    data: REF_T.map((t, i) => [t, REF_V[i]]), symbol: 'none', showSymbol: false, clip: true, z: 3,
    lineStyle: {color: '#6b6b6b', width: 4, type: [16, 16]}, itemStyle: {color: '#6b6b6b'},
    emphasis: {disabled: true}, animation: false,
    markLine: {silent: true, symbol: 'none', animation: false, z: 5,
      data: [
        {yAxis: EPS_R, lineStyle: {type: [15, 7], width: 4, color: '#000'},
         label: {show: true, position: 'end', distance: 6, formatter: '{e|ε}{r|R}', color: '#000',
           rich: {e: {fontFamily: FONT, fontSize: 33, fontStyle: 'italic', color: '#000'},
                  r: {fontFamily: FONT, fontSize: 23, fontStyle: 'italic', color: '#000', padding: [14, 0, 0, 0]}}}},
        {yAxis: BAND_HI, lineStyle: {type: [4, 7.5], width: 4, color: '#000'}, label: {show: false}},
        {yAxis: BAND_LO, lineStyle: {type: [4, 7.5], width: 4, color: '#000'}, label: {show: false}}
      ]}});
  out.push({type: 'scatter', name: 'Small signal control selected', xAxisIndex: xi, yAxisIndex: yi,
    data: markers, symbol: 'circle', symbolSize: 16, z: 6, clip: false,
    itemStyle: {color: 'rgba(140,140,140,0.8)', borderColor: '#000', borderWidth: 3, opacity: 1},
    emphasis: {disabled: true}, animation: false});
  return out;
}

const LEGEND_ROW1 = ['Ref', '2 Kg', '3 Kg', '4 Kg', '5 Kg', '7 Kg'];
const LEGEND_ROW2 = ['8 Kg', '9 Kg', '10 Kg'];
const REF_ICON = 'path://M0,0h16v4h-16z M32,0h16v4h-16z M64,0h16v4h-16z';
function legendItems(names) {
  return names.map(n => ({name: n, icon: n === 'Ref' ? REF_ICON : 'rect'}));
}
const legendText = {fontFamily: FONT, fontSize: 33, color: '#000', lineHeight: 36, padding: [0, 0, 0, 4]};
const option = {
  animation: false,
  backgroundColor: 'transparent',
  grid: [
    {left: 370, top: 775, width: 946, height: 364, containLabel: false},
    {left: 370, top: 1233, width: 946, height: 364, containLabel: false}
  ],
  xAxis: xAxesFor(0).concat(xAxesFor(1)),
  yAxis: yAxesFor(0, Y_MIN_A, Y_MAX_A).concat(yAxesFor(1, Y_MIN_B, Y_MAX_B)),
  legend: [
    {left: 372, top: 1688, padding: 0, itemWidth: 79, itemHeight: 4, itemGap: 7, selectedMode: false,
     itemStyle: {borderWidth: 0}, data: legendItems(LEGEND_ROW1), textStyle: legendText},
    {left: 369, top: 1730, padding: 0, itemWidth: 78, itemHeight: 4, itemGap: 7, selectedMode: false,
     itemStyle: {borderWidth: 0}, data: legendItems(LEGEND_ROW2), textStyle: legendText},
    {left: 884, top: 1730, padding: 0, itemWidth: 23, itemHeight: 23, itemGap: 10, selectedMode: false,
     data: ['Small signal control selected'], textStyle: legendText}
  ],
  series: panelSeries(PANEL_A, T_A_SET, MARK_A, 0, 0).concat(panelSeries(PANEL_B, T_B_SET, MARK_B, 2, 2))
};
chart.setOption(option);

// annotations positioned through the axes' own scales
function px(xi, yi, pt) { return chart.convertToPixel({xAxisIndex: xi, yAxisIndex: yi}, pt); }
const gfx = [{type: 'rect', shape: {x: 356, y: 1686, width: 962, height: 92},
  style: {fill: null, stroke: '#000', lineWidth: 2}}];
[[0, 0, '(a)', PANEL_LABEL_A], [2, 2, '(b)', PANEL_LABEL_B]].forEach(p => {
  const [xi, yi, lab, at] = p;
  const lp = px(xi, yi, at);
  gfx.push({type: 'text', x: lp[0], y: lp[1], z: 10,
    style: {text: lab, fontFamily: FONT, fontSize: 31, fill: '#000', align: 'center', verticalAlign: 'middle'}});
  const top = px(xi, yi, [X_MAX, BAND_HI]), bot = px(xi, yi, [X_MAX, BAND_LO]);
  const ax = top[0] + 12;
  gfx.push({type: 'line', z: 10, shape: {x1: ax, y1: top[1], x2: ax, y2: bot[1]}, style: {stroke: '#000', lineWidth: 1.6}});
  gfx.push({type: 'polyline', z: 10, shape: {points: [[ax - 4.5, top[1] + 16], [ax, top[1]], [ax + 4.5, top[1] + 16]]}, style: {stroke: '#000', lineWidth: 1.6, fill: null}});
  gfx.push({type: 'polyline', z: 10, shape: {points: [[ax - 4.5, bot[1] - 16], [ax, bot[1]], [ax + 4.5, bot[1] - 16]]}, style: {stroke: '#000', lineWidth: 1.6, fill: null}});
  const mid = px(xi, yi, [X_MAX, DELTA_LABEL_V]);
  gfx.push({type: 'text', x: ax + 7, y: mid[1], z: 10,
    style: {text: '{n|2}{d|δ}', verticalAlign: 'middle', align: 'left',
      rich: {n: {fontFamily: FONT, fontSize: 32, fill: '#000', color: '#000'},
             d: {fontFamily: FONT, fontSize: 32, fontStyle: 'italic', fill: '#000', color: '#000'}}}});
});
chart.setOption({graphic: gfx});

// justify the body text lines to the text block width
document.querySelectorAll('.j').forEach(el => {
  const span = el.querySelector('.in');
  el.style.wordSpacing = '0px';
  const w = span.getBoundingClientRect().width;
  const n = (span.textContent.match(/ /g) || []).length;
  if (n) el.style.wordSpacing = ((1179 - w) / n) + 'px';
});
</script>
</body>
</html>
